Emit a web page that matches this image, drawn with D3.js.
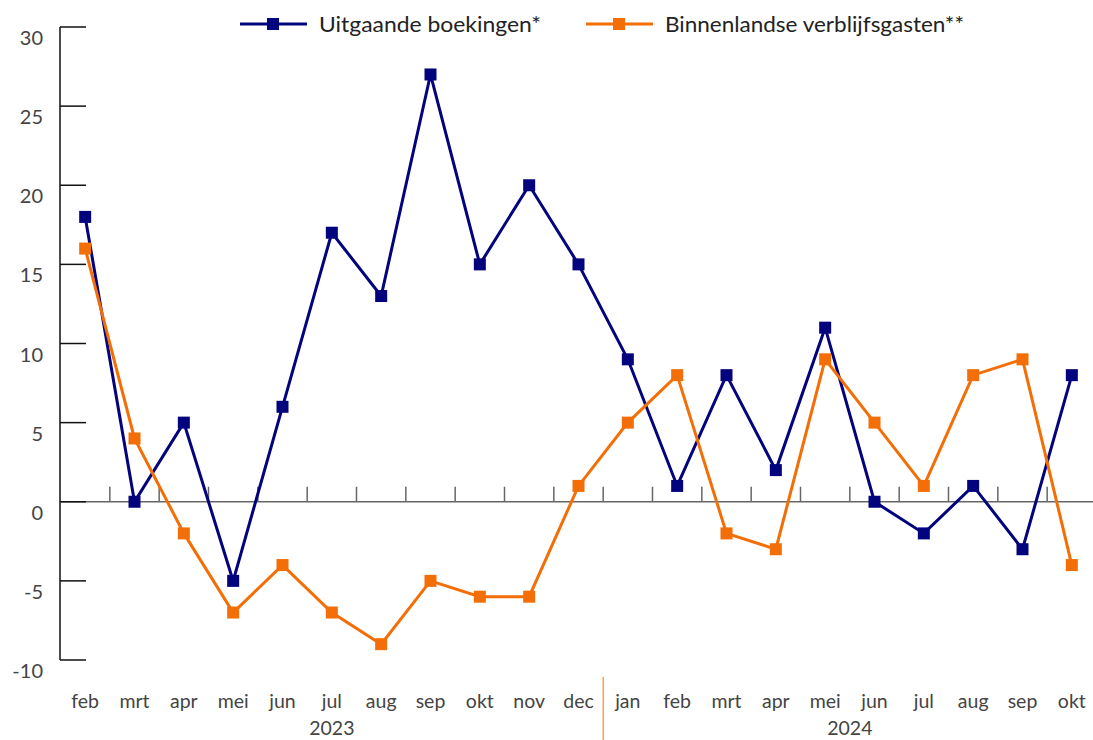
<!DOCTYPE html>
<html><head><meta charset="utf-8">
<script src="https://cdn.jsdelivr.net/npm/d3@7"></script>
<style>body{margin:0;background:#fff;}svg{display:block;font-family:Lato, sans-serif;}</style>
</head><body>
<svg id="chart" width="1093" height="740"></svg>
<script>
const months = ["feb","mrt","apr","mei","jun","jul","aug","sep","okt","nov","dec","jan","feb","mrt","apr","mei","jun","jul","aug","sep","okt"];
const years = [{label:"2023", from:0, to:10},{label:"2024", from:11, to:20}];
const uitgaande = [18,0,5,-5,6,17,13,27,15,20,15,9,1,8,2,11,0,-2,1,-3,8];
const binnenlandse = [16,4,-2,-7,-4,-7,-9,-5,-6,-6,1,5,8,-2,-3,9,5,1,8,9,-4];
const yTicks = [-10,-5,0,5,10,15,20,25,30];
const seriesNames = ["Uitgaande boekingen*","Binnenlandse verblijfsgasten**"];
const colors = ["#03037d","#f36e06"];

const svg = d3.select("#chart");
const idx = d3.range(months.length);
const x = d3.scaleBand().domain(idx).range([60.5,1096.5]).padding(0);
const y = d3.scaleLinear().domain([-10,30]).range([660,27]);
const cx = i => x(i) + x.bandwidth()/2;

// y axis
svg.append("line").attr("x1",60).attr("x2",60).attr("y1",y(30)).attr("y2",y(-10)).attr("stroke","#111").attr("stroke-width",1.5);
// zero line
svg.append("line").attr("x1",60).attr("x2",1093).attr("y1",y(0)).attr("y2",y(0)).attr("stroke","#666").attr("stroke-width",1.5);
// y ticks
svg.selectAll(".yt").data(yTicks).enter().append("line")
  .attr("x1",60).attr("x2",86).attr("y1",d=>y(d)).attr("y2",d=>y(d)).attr("stroke","#111").attr("stroke-width",1.5);
svg.selectAll(".yl").data(yTicks).enter().append("text")
  .attr("x",43).attr("y",d=>y(d)+18).attr("text-anchor","end").attr("font-size",20).attr("fill","#444").text(d=>d);
// category ticks on zero line
svg.selectAll(".ct").data(idx.slice(1)).enter().append("line")
  .attr("x1",d=>x(d)).attr("x2",d=>x(d)).attr("y1",y(0)-15).attr("y2",y(0)).attr("stroke","#666").attr("stroke-width",1.5);
// month labels
svg.selectAll(".ml").data(idx).enter().append("text")
  .attr("x",d=>cx(d)).attr("y",708).attr("text-anchor","middle").attr("font-size",19.5).attr("fill","#444").text(d=>months[d]);
// year labels
svg.selectAll(".yr").data(years).enter().append("text")
  .attr("x",d=>(cx(d.from)+cx(d.to))/2).attr("y",735).attr("text-anchor","middle").attr("font-size",19.5).attr("fill","#444").text(d=>d.label);
// year separator
svg.append("line").attr("x1",x(11)).attr("x2",x(11)).attr("y1",677).attr("y2",740).attr("stroke","#f36e06").attr("stroke-width",1);

const line = d3.line().x((d,i)=>cx(i)).y(d=>y(d));
[uitgaande, binnenlandse].forEach((s,k)=>{
  svg.append("path").datum(s).attr("d",line).attr("fill","none").attr("stroke",colors[k]).attr("stroke-width",3);
  svg.selectAll(".m"+k).data(s).enter().append("rect")
    .attr("x",(d,i)=>cx(i)-6).attr("y",d=>y(d)-6).attr("width",12).attr("height",12).attr("fill",colors[k]);
});

// legend
const legX = [240,586];
seriesNames.forEach((n,k)=>{
  const g = svg.append("g").attr("transform",`translate(${legX[k]},24)`);
  g.append("line").attr("x1",0).attr("x2",67).attr("y1",0).attr("y2",0).attr("stroke",colors[k]).attr("stroke-width",3);
  g.append("rect").attr("x",27).attr("y",-6).attr("width",12).attr("height",12).attr("fill",colors[k]);
  g.append("text").attr("x",79).attr("y",8).attr("font-size",21).attr("fill","#222")
    .attr("textLength", k===0 ? 222 : 299).attr("lengthAdjust","spacingAndGlyphs").text(n);
});
</script>
</body></html>
